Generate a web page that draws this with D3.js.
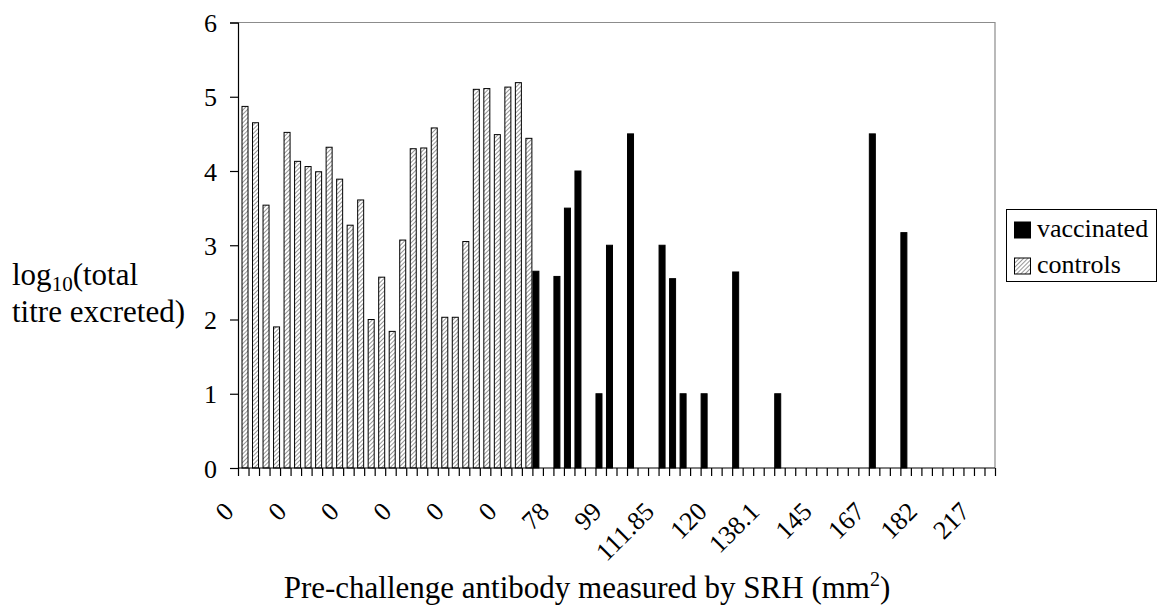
<!DOCTYPE html>
<html>
<head>
<meta charset="utf-8">
<script src="https://cdn.jsdelivr.net/npm/d3@7/dist/d3.min.js"></script>
<style>
  html, body { margin: 0; padding: 0; background: #fff; }
  svg text { font-family: "Liberation Serif", "Times New Roman", serif; fill: #000; }
</style>
</head>
<body>
<svg id="chart" width="1158" height="608"></svg>
<script>
// ---- data ----
const slotCount = 72;                 // category slots along the x axis
const tickLabels = ["0", "0", "0", "0", "0", "0", "78", "99", "111.85", "120", "138.1", "145", "167", "182", "217"];
const labelEvery = 5;                 // a label on every 5th category
const controls = [4.87, 4.65, 3.54, 1.90, 4.52, 4.13, 4.06, 3.99, 4.32, 3.89, 3.27, 3.61, 2.00, 2.57,
                  1.84, 3.07, 4.30, 4.31, 4.58, 2.03, 2.03, 3.05, 5.10, 5.11, 4.49, 5.13, 5.19, 4.44];
const vaccinated = [2.65, 0, 2.58, 3.5, 4.0, 0, 1.0, 3.0, 0, 4.5, 0, 0, 3.0, 2.55, 1.0, 0, 1.0, 0, 0, 2.64,
                    0, 0, 0, 1.0, 0, 0, 0, 0, 0, 0, 0, 0, 4.5, 0, 0, 3.17, 0, 0, 0, 0, 0, 0, 0, 0];
const seriesNames = ["vaccinated", "controls"];
const yTicks = [0, 1, 2, 3, 4, 5, 6];

// ---- layout ----
const pL = 238, pR = 995, pT = 22.5, pB = 468;
const svg = d3.select("#chart");

const defs = svg.append("defs");
const pat = defs.append("pattern").attr("id", "hatch").attr("patternUnits", "userSpaceOnUse")
  .attr("width", 3).attr("height", 3).attr("patternTransform", "rotate(45)");
pat.append("rect").attr("width", 3).attr("height", 3).attr("fill", "#ffffff");
pat.append("line").attr("x1", 0).attr("y1", 0).attr("x2", 0).attr("y2", 3)
  .attr("stroke", "#6a6a6a").attr("stroke-width", 1.4);

const x = d3.scaleBand().domain(d3.range(slotCount)).range([pL, pR]).padding(0);
const xb = d3.scaleLinear().domain([0, slotCount]).range([pL, pR]);
const y = d3.scaleLinear().domain([0, 6]).range([pB, pT]);
const bw = x.bandwidth();

// plot area border (grey top/right)
svg.append("path")
  .attr("d", `M${pL},${y(6)}H${pR}V${pB}`)
  .attr("fill", "none").attr("stroke", "#8c8c8c").attr("stroke-width", 1.2);

// build per-slot records
const startVacc = controls.length;
const recs = [];
controls.forEach((v, i) => recs.push({ slot: i, series: "controls", value: v }));
vaccinated.forEach((v, i) => recs.push({ slot: startVacc + i, series: "vaccinated", value: v }));

const offset = { vaccinated: 0, controls: bw / 3 };
const barW = bw * 2 / 3;

svg.append("g").selectAll("rect")
  .data(recs.filter(d => d.value > 0))
  .join("rect")
  .attr("x", d => x(d.slot) + offset[d.series] + 0.5)
  .attr("y", d => y(d.value))
  .attr("width", barW - 1)
  .attr("height", d => y(0) - y(d.value))
  .attr("fill", d => d.series === "controls" ? "url(#hatch)" : "#000")
  .attr("stroke", "#000").attr("stroke-width", 1);

// y axis
const yAxis = svg.append("g").attr("transform", `translate(${pL},0)`)
  .call(d3.axisLeft(y).tickValues(yTicks).tickFormat(d3.format("d")).tickSize(8).tickPadding(13));
yAxis.selectAll("text").style("font-size", "26px").attr("dy", "0.35em");
yAxis.selectAll("line, path").attr("stroke", "#000").attr("stroke-width", 1.2);

// x axis (ticks at every category boundary)
const xAxis = svg.append("g").attr("transform", `translate(0,${pB})`)
  .call(d3.axisBottom(xb).tickValues(d3.range(slotCount + 1)).tickSize(8).tickFormat(""));
xAxis.select(".domain").attr("d", `M${pL},0H${pR}`);
xAxis.selectAll("line, path").attr("stroke", "#000").attr("stroke-width", 1.2);

// rotated category labels
svg.append("g").selectAll("text")
  .data(tickLabels)
  .join("text")
  .attr("transform", (d, i) => `translate(${x(i * labelEvery) + bw / 2 - 8},${pB + 45}) rotate(-45)`)
  .attr("text-anchor", "end")
  .style("font-size", "26px")
  .text(d => d);

// x title
const xt = svg.append("text").attr("x", 587).attr("y", 598).attr("text-anchor", "middle")
  .style("font-size", "31px");
xt.append("tspan").text("Pre-challenge antibody measured by SRH (mm");
xt.append("tspan").attr("dy", -12).style("font-size", "20px").text("2");
xt.append("tspan").attr("dy", 12).text(")");

// y title
const yt1 = svg.append("text").attr("x", 12).attr("y", 285).style("font-size", "31px");
yt1.append("tspan").text("log");
yt1.append("tspan").attr("dy", 6).style("font-size", "21px").text("10");
yt1.append("tspan").attr("dy", -6).text("(total");
svg.append("text").attr("x", 12).attr("y", 322).style("font-size", "31px").text("titre excreted)");

// legend
const lg = svg.append("g");
lg.append("rect").attr("x", 1006.5).attr("y", 209.5).attr("width", 150).attr("height", 72)
  .attr("fill", "#fff").attr("stroke", "#000").attr("stroke-width", 1);
seriesNames.forEach((s, i) => {
  const yy = 222 + i * 36;
  lg.append("rect").attr("x", 1014.5).attr("y", yy).attr("width", 16).attr("height", 16)
    .attr("fill", s === "controls" ? "url(#hatch)" : "#000").attr("stroke", "#000").attr("stroke-width", 1);
  lg.append("text").attr("x", 1037).attr("y", yy + 15).style("font-size", "26px").text(s);
});
</script>
</body>
</html>
